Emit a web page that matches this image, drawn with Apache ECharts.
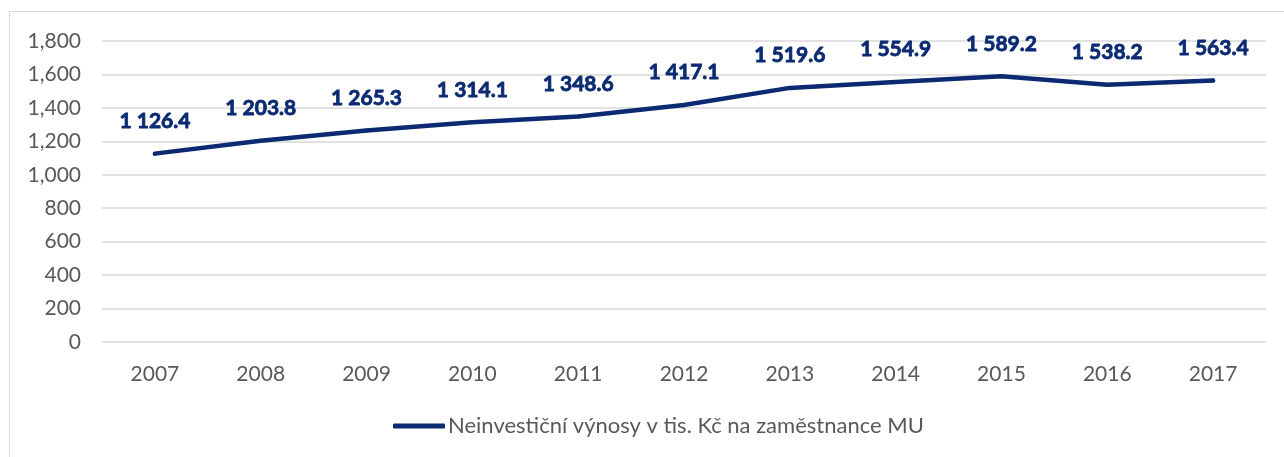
<!DOCTYPE html>
<html>
<head>
<meta charset="utf-8">
<script src="https://cdn.jsdelivr.net/npm/echarts@6/dist/echarts.min.js"></script>
<style>
  html, body { margin: 0; padding: 0; background: #fff; }
  #chart { width: 1284px; height: 457px; }
</style>
</head>
<body>
<div id="chart"></div>
<script>
const years = ['2007', '2008', '2009', '2010', '2011', '2012', '2013', '2014', '2015', '2016', '2017']
const revenuePerEmployee = [1126.4, 1203.8, 1265.3, 1314.1, 1348.6, 1417.1, 1519.6, 1554.9, 1589.2, 1538.2, 1563.4]
const seriesName = 'Neinvestiční výnosy v tis. Kč na zaměstnance MU'

const navy = '#0b2a72'
const grey = '#595959'
const font = 'Lato, "Open Sans", sans-serif'

// "1 126.4" style: space as thousands separator, one decimal
const fmtLabel = (v) => {
  const [i, d] = v.toFixed(1).split('.')
  return i.replace(/\B(?=(\d{3})+(?!\d))/g, ' ') + '.' + d
}

const chart = echarts.init(document.getElementById('chart'), null, { renderer: 'canvas' })

chart.setOption({
  animation: false,
  graphic: [{
    type: 'rect',
    shape: { x: 9.5, y: 11.5, width: 1290, height: 460 },
    style: { fill: 'none', stroke: '#d9d9d9', lineWidth: 1 },
    silent: true,
  }],
  grid: { left: 102, right: 18, top: 41, bottom: 115 },
  legend: {
    bottom: 15,
    left: 388,
    itemWidth: 52,
    itemHeight: 5,
    itemGap: 4,
    icon: 'roundRect',
    itemStyle: { color: navy, opacity: 1 },
    textStyle: { color: grey, fontFamily: font, fontSize: 22, padding: [0, 0, 0, -2] },
    data: [seriesName],
  },
  xAxis: {
    type: 'category',
    data: years,
    axisLine: { show: false },
    axisTick: { show: false },
    axisLabel: { color: grey, fontFamily: font, fontSize: 21, margin: 22 },
  },
  yAxis: {
    type: 'value',
    min: 0,
    max: 1800,
    interval: 200,
    axisLine: { show: false },
    axisTick: { show: false },
    splitLine: { lineStyle: { color: '#d9d9d9', width: 1.5 } },
    axisLabel: {
      color: grey,
      fontFamily: font,
      fontSize: 21,
      margin: 21,
      formatter: (v) => v.toLocaleString('en-US'),
    },
  },
  series: [{
    name: seriesName,
    type: 'line',
    data: revenuePerEmployee,
    symbol: 'circle',
    symbolSize: 4,
    showSymbol: true,
    itemStyle: { color: navy },
    color: navy,
    lineStyle: { width: 4.5, cap: 'round', join: 'round' },
    label: {
      show: true,
      position: 'top',
      distance: 20,
      color: navy,
      fontFamily: font,
      fontWeight: 'bold',
      fontSize: 21,
      textBorderColor: navy,
      textBorderWidth: 0.8,
      formatter: (p) => fmtLabel(p.value),
    },
    emphasis: { disabled: true },
  }],
})
</script>
</body>
</html>
